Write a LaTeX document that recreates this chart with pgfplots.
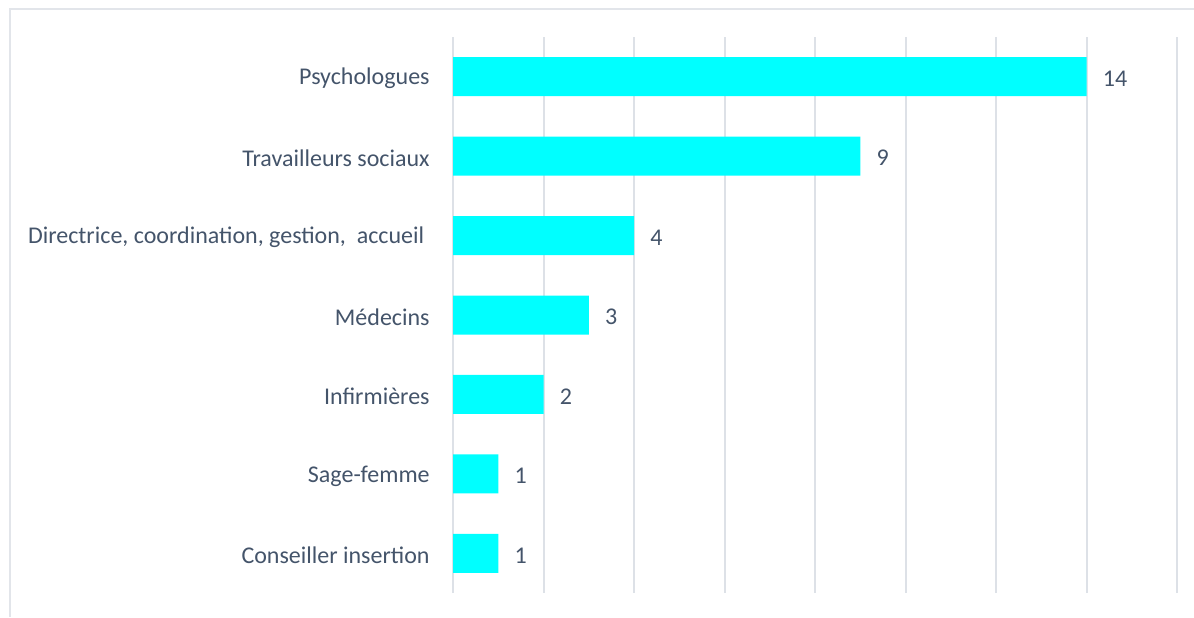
\documentclass[border=0pt]{standalone}
\usepackage{fontspec}
\setmainfont{Carlito}
\usepackage{pgfplots}
\pgfplotsset{compat=1.18}
\definecolor{txt}{HTML}{44546A}
\definecolor{gridc}{HTML}{DDE1E7}
\definecolor{framec}{HTML}{E2E5EA}
\definecolor{barc}{HTML}{00FFFF}
\begin{document}
\begin{tikzpicture}
\useasboundingbox (0,0) rectangle (597pt,308.5pt);
\draw[framec, line width=1pt] (4.75pt,0) -- (4.75pt,304pt) -- (597pt,304pt);
\begin{axis}[
  at={(226.5pt,12pt)}, anchor=south west,
  scale only axis, width=362pt, height=278pt,
  xbar, bar width=19.5pt,
  xmin=0, xmax=16, ymin=-0.5, ymax=6.5,
  xtick={0,2,...,16}, xticklabels={},
  xmajorgrids=true, ymajorgrids=false,
  major grid style={draw=gridc, line width=1pt},
  ytick={0,1,2,3,4,5,6},
  yticklabels={Conseiller insertion, Sage-femme, Infirmières, Médecins, {Directrice, coordination, gestion,\ \ accueil\hspace*{2.7pt}}, Travailleurs sociaux, Psychologues},
  major tick length=0pt,
  axis line style={draw=none},
  font=\fontsize{12}{14}\selectfont,
  tick label style={text=txt, font=\fontsize{12}{14}\selectfont},
  yticklabel style={inner sep=0pt, xshift=-11.5pt, yshift=-1pt},
  /pgf/number format/assume math mode=true,
  nodes near coords,
  every node near coord/.append style={text=txt, anchor=west, inner sep=0pt, xshift=8pt, yshift=-1pt, font=\fontsize{12}{14}\selectfont},
  clip=false,
]
\addplot[fill=barc, draw=none] coordinates {(1,0) (1,1) (2,2) (3,3) (4,4) (9,5) (14,6)};
\end{axis}
\end{tikzpicture}
\end{document}
